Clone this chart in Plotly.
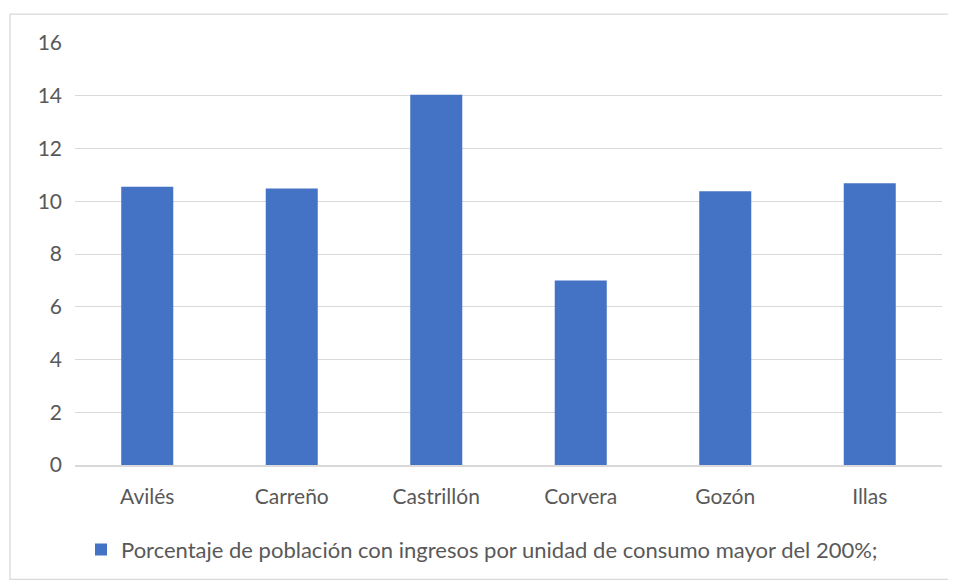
import plotly.graph_objects as go

categories = ["Avilés", "Carreño", "Castrillón", "Corvera", "Gozón", "Illas"]
values = [10.55, 10.48, 14.04, 7.0, 10.38, 10.68]
series_name = "Porcentaje de población con ingresos por unidad de consumo mayor del 200%;"
y_ticks = [0, 2, 4, 6, 8, 10, 12, 14, 16]

# page has an 8px body margin; figure coordinates are page minus 8
OFF = 8
W, H = 948, 575
L, R, T, B = 75 - OFF, 14, 43 - OFF, 116
pw, ph = W - L - R, H - T - B

def px_x(x):
    return (x - OFF - L) / pw

def px_y(y):
    return (H - B - (y - OFF)) / ph

fig = go.Figure()
fig.add_trace(go.Bar(x=categories, y=values, name=series_name,
                     marker=dict(color="#4472C4", line=dict(width=0))))

font_family = "Lato, Open Sans, sans-serif"
FS = 21
fig.update_layout(
    width=W, height=H,
    margin=dict(l=L, r=R, t=T, b=B),
    paper_bgcolor="white", plot_bgcolor="white",
    bargap=0.64,
    showlegend=True,
    legend=dict(orientation="h", x=px_x(482), xanchor="center", y=px_y(552), yanchor="middle",
                font=dict(family=font_family, size=22, color="#595959"),
                itemwidth=30),
    font=dict(family=font_family, size=FS, color="#595959"),
    xaxis=dict(showgrid=False, showline=True, linecolor="#d9d9d9", linewidth=1.5,
               tickfont=dict(family=font_family, size=FS, color="#595959"),
               ticks="", ticklabelstandoff=12),
    yaxis=dict(range=[0, 16], tickvals=y_ticks, showgrid=True, gridcolor="#d9d9d9",
               gridwidth=1.3, zeroline=False, showline=False,
               tickfont=dict(family=font_family, size=FS, color="#595959"),
               ticks="", ticklabelstandoff=12),
    shapes=[dict(type="rect", xref="paper", yref="paper",
                 x0=px_x(10), x1=px_x(950), y0=px_y(582), y1=px_y(14),
                 line=dict(color="#d9d9d9", width=1.3), layer="below")],
)

fig.write_html("out.html")
